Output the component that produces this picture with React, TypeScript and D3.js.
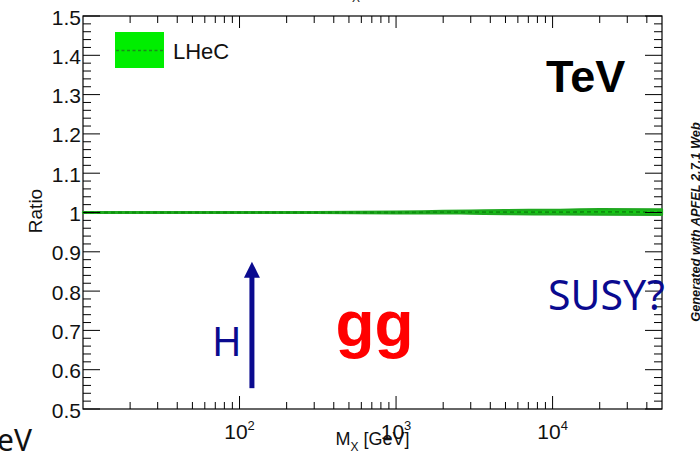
import React from "react";
import * as d3 from "d3";

// LHeC / reference PDF ratio for the gg luminosity as a function of M_X
const massGeV = [10, 30, 100, 300, 1000, 2000, 3000, 5000, 10000, 20000, 50000];
const ratioCentral = [1.0, 1.0, 1.0, 1.0, 1.0, 1.001, 1.001, 1.001, 1.001, 1.0015, 1.001];
const ratioHalfWidth = [0.001, 0.001, 0.001, 0.001, 0.002, 0.003, 0.004, 0.005, 0.006, 0.007, 0.007];

const xMajorTicks = [100, 1000, 10000];
const xMajorExponents = ["2", "3", "4"];
const yTickValues = d3.range(0, 51).map((i) => +(0.5 + i * 0.02).toFixed(2));
const yTickLabels = ["0.5", "0.6", "0.7", "0.8", "0.9", "1", "1.1", "1.2", "1.3", "1.4", "1.5"];

const legendLabel = "LHeC";
const higgsArrow = { mass: 120, from: 0.553, to: 0.875 };

const W = 700;
const H = 456;
const left = 83;
const right = 662;
const top = 16;
const bottom = 409;

const FONT = "'Liberation Sans', Arial, Helvetica, sans-serif";
const SANS = "'Noto Sans', 'Open Sans', sans-serif";

export default function App() {
  const x = d3.scaleLog().domain([10, 50000]).range([left, right]);
  const y = d3.scaleLinear().domain([0.5, 1.5]).range([bottom, top]);

  const rows = massGeV.map((m, i) => ({ m, c: ratioCentral[i], h: ratioHalfWidth[i] }));

  const band = d3
    .area<{ m: number; c: number; h: number }>()
    .x((d) => x(d.m))
    .y0((d) => y(d.c - d.h))
    .y1((d) => y(d.c + d.h))
    .curve(d3.curveMonotoneX)(rows) as string;

  const centre = d3
    .line<{ m: number; c: number; h: number }>()
    .x((d) => x(d.m))
    .y((d) => y(d.c))
    .curve(d3.curveMonotoneX)(rows) as string;

  // log minor ticks 2..9 x 10^k inside the domain
  const xMinor: number[] = [];
  for (let k = 1; k <= 4; k++) {
    for (let j = 2; j <= 9; j++) {
      const v = j * Math.pow(10, k);
      if (v < 50000) xMinor.push(v);
    }
  }

  const ax = x(higgsArrow.mass);
  const arrowBase = y(higgsArrow.from);
  const arrowTip = y(higgsArrow.to);
  const headLen = 16;
  const headHalf = 8;

  return (
    <svg
      width={W}
      height={H}
      viewBox={`0 0 ${W} ${H}`}
      style={{ position: "absolute", left: 0, top: 0, display: "block", background: "#fff" }}
    >
      {/* title of the panel above, cut by the top edge */}
      <text x={374} y={-4} textAnchor="middle" fontFamily={FONT} fontSize={18} fill="#222">
        M<tspan fontSize={12} dy={6}>X</tspan>
        <tspan dy={-6}> [GeV]</tspan>
      </text>

      {/* frame */}
      <rect x={left} y={top} width={right - left} height={bottom - top} fill="none" stroke="#000" strokeWidth={1.2} />

      {/* uncertainty band and central value */}
      <path d={band} fill="#14c814" stroke="#1fa81f" strokeWidth={2.2} strokeLinejoin="round" />
      <path d={centre} fill="none" stroke="#0d8f0d" strokeWidth={1.8} strokeDasharray="4,3" />

      {/* x ticks, bottom and top */}
      {xMinor.map((v) => (
        <g key={"xm" + v}>
          <line x1={x(v)} x2={x(v)} y1={bottom} y2={bottom - 7} stroke="#000" strokeWidth={1} />
          <line x1={x(v)} x2={x(v)} y1={top} y2={top + 7} stroke="#000" strokeWidth={1} />
        </g>
      ))}
      {xMajorTicks.map((v) => (
        <g key={"xM" + v}>
          <line x1={x(v)} x2={x(v)} y1={bottom} y2={bottom - 13} stroke="#000" strokeWidth={1} />
          <line x1={x(v)} x2={x(v)} y1={top} y2={top + 12} stroke="#000" strokeWidth={1} />
        </g>
      ))}
      {xMajorTicks.map((v, i) => (
        <text key={"xl" + v} x={x(v)} y={439} textAnchor="middle" fontFamily={FONT} fontSize={21} fill="#111">
          10<tspan fontSize={13} dy={-9}>{xMajorExponents[i]}</tspan>
        </text>
      ))}

      {/* y ticks, left and right */}
      {yTickValues.map((v, i) => {
        const major = i % 5 === 0;
        const len = major ? 17 : 8;
        return (
          <g key={"yt" + i}>
            <line x1={left} x2={left + len} y1={y(v)} y2={y(v)} stroke="#000" strokeWidth={1} />
            <line x1={right} x2={right - len} y1={y(v)} y2={y(v)} stroke="#000" strokeWidth={1} />
          </g>
        );
      })}
      {yTickLabels.map((lab, i) => (
        <text
          key={"yl" + lab}
          x={81}
          y={y(0.5 + i * 0.1) + 1}
          dy="0.36em"
          textAnchor="end"
          fontFamily={FONT}
          fontSize={21}
          fill="#111"
        >
          {lab}
        </text>
      ))}

      {/* axis titles */}
      <text x={372.5} y={445} textAnchor="middle" fontFamily={FONT} fontSize={18} fill="#111">
        M<tspan fontSize={12} dy={6}>X</tspan>
        <tspan dy={-6}> [GeV]</tspan>
      </text>
      <text
        transform="translate(42,211) rotate(-90)"
        textAnchor="middle"
        fontFamily={FONT}
        fontSize={19}
        fill="#111"
      >
        Ratio
      </text>

      {/* legend */}
      <rect x={115} y={32} width={49} height={36} fill="#00ee00" />
      <line x1={116} x2={163} y1={50.5} y2={50.5} stroke="#1a8a1a" strokeWidth={1.6} strokeDasharray="3,2.5" />
      <text x={173} y={59} fontFamily={FONT} fontSize={22} fill="#111">
        {legendLabel}
      </text>

      {/* annotations */}
      <text x={546} y={91.5} fontFamily={FONT} fontSize={45} fontWeight="bold" fill="#000">
        TeV
      </text>
      <text x={335.5} y={345.5} fontFamily={FONT} fontSize={64} fontWeight="bold" fill="#ff0000">
        gg
      </text>
      <text x={212} y={356} fontFamily={SANS} fontSize={40} fill="#0a0a8f">
        H
      </text>
      <text x={548} y={310} fontFamily={SANS} fontSize={41} fill="#0a0a8f">
        SUSY?
      </text>
      <line x1={ax} x2={ax} y1={arrowBase} y2={arrowTip + headLen - 1} stroke="#0a0a8f" strokeWidth={5} />
      <path
        d={`M${ax},${arrowTip} L${ax + headHalf},${arrowTip + headLen} L${ax - headHalf},${arrowTip + headLen} Z`}
        fill="#0a0a8f"
      />

      {/* generator stamp */}
      <text
        transform="translate(699.5,222) rotate(-90)"
        textAnchor="middle"
        fontFamily={FONT}
        fontSize={12.8}
        fontWeight="bold"
        fontStyle="italic"
        fill="#111"
      >
        Generated with APFEL 2.7.1 Web
      </text>

      {/* label from the neighbouring panel, cut by the left edge */}
      <text x={32} y={451} textAnchor="end" fontFamily={SANS} fontSize={30} fill="#111">
        TeV
      </text>
    </svg>
  );
}
